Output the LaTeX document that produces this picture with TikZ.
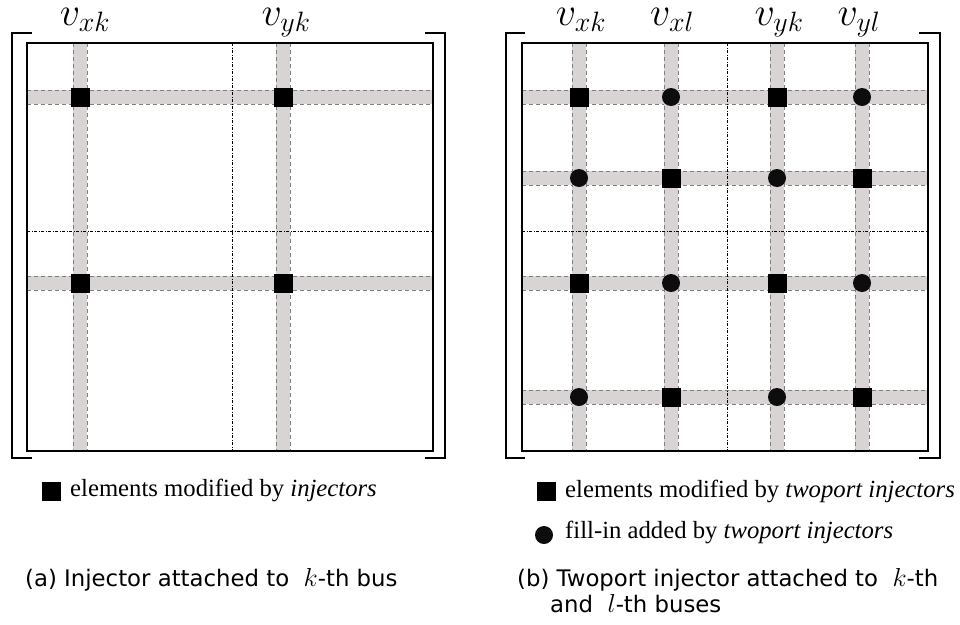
\RequirePackage{fix-cm}
\documentclass[tikz,border=0pt]{standalone}
\usepackage{fontspec}
\setmainfont{Liberation Serif}
\newfontfamily\capfont{DejaVu Sans}
\usetikzlibrary{calc}
\definecolor{bandgray}{RGB}{216,212,212}
\definecolor{banddash}{RGB}{128,128,128}
\tikzset{
  bandfill/.style={fill=bandgray, draw=none},
  bandedge/.style={draw=banddash, line width=0.9pt, dash pattern=on 4pt off 3pt},
  divider/.style={draw=black, line width=0.9pt, dash pattern=on 3pt off 1.5pt on 1pt off 1.5pt},
  matbox/.style={draw=black, line width=2pt},
  brack/.style={draw=black, line width=2.6pt},
  sqmark/.style={fill=black, draw=none, minimum size=19pt, inner sep=0pt, shape=rectangle},
  cmark/.style={fill=black!95, draw=none, minimum size=18pt, inner sep=0pt, shape=circle},
  collabel/.style={anchor=base, inner sep=0pt, text height=17pt, text depth=5pt,
    font=\fontsize{40}{48}\selectfont},
  legtext/.style={anchor=base west, inner sep=0pt, font=\fontsize{24.7}{29}\selectfont},
  captext/.style={anchor=base west, inner sep=0pt, font=\capfont\fontsize{22.8}{27}\selectfont},
}
% slightly enlarged math symbol inside a caption
\newcommand{\capmath}[1]{{\fontsize{26}{27}\selectfont$#1$}}
% vertical band at x from y1 to y2
\newcommand{\vband}[3]{%
  \fill[bandfill] (#1-7,#2) rectangle (#1+7,#3);
  \draw[bandedge] (#1-7,#2) -- (#1-7,#3);
  \draw[bandedge] (#1+7,#2) -- (#1+7,#3);}
% horizontal band at y from x1 to x2
\newcommand{\hband}[3]{%
  \fill[bandfill] (#2,#1-7) rectangle (#3,#1+7);
  \draw[bandedge] (#2,#1-7) -- (#3,#1-7);
  \draw[bandedge] (#2,#1+7) -- (#3,#1+7);}
\begin{document}
\begin{tikzpicture}[x=1pt,y=-1pt]
\useasboundingbox (0,0) rectangle (960,624);

% ---------- (a) single injector ----------
\hband{97}{27}{433}
\hband{283}{27}{433}
\vband{80}{43}{451}
\vband{283}{43}{451}
\draw[divider] (232,43) -- (232,451);
\draw[divider] (27,231) -- (433,231);
\node[sqmark] (a11) at (80,97) {};
\node[sqmark] (a12) at (283,97) {};
\node[sqmark] (a21) at (80,283) {};
\node[sqmark] (a22) at (283,283) {};
\draw[matbox] (27,43) rectangle (433,451);
\draw[brack] (32,33) -- (12,33) -- (12,458) -- (32,458);
\draw[brack] (425,33) -- (445,33) -- (445,458) -- (425,458);
\node[collabel] (axk) at (85,25) {$v_{xk}$};
\node[collabel] (ayk) at (286,25) {$v_{yk}$};

% legend (a)
\node[sqmark] (alegsq) at (51.5,491) {};
\node[legtext] (alegtx) at (70,496) {elements modified by \textit{injectors}};
% caption (a)
\node[captext] (acap) at (25,586) {(a) Injector attached to \ \capmath{k}-th bus};

% ---------- (b) twoport injector ----------
\foreach \yy in {97,178,283,397} { \hband{\yy}{522}{928} }
\foreach \xx in {579,671,777,862} { \vband{\xx}{43}{451} }
\draw[divider] (727,43) -- (727,451);
\draw[divider] (522,231) -- (928,231);
% markers: squares on modified entries, circles on fill-in
\node[sqmark] (b11) at (579,97) {};
\node[cmark]  (b12) at (671,97) {};
\node[sqmark] (b13) at (777,97) {};
\node[cmark]  (b14) at (862,97) {};
\node[cmark]  (b21) at (579,178) {};
\node[sqmark] (b22) at (671,178) {};
\node[cmark]  (b23) at (777,178) {};
\node[sqmark] (b24) at (862,178) {};
\node[sqmark] (b31) at (579,283) {};
\node[cmark]  (b32) at (671,283) {};
\node[sqmark] (b33) at (777,283) {};
\node[cmark]  (b34) at (862,283) {};
\node[cmark]  (b41) at (579,397) {};
\node[sqmark] (b42) at (671,397) {};
\node[cmark]  (b43) at (777,397) {};
\node[sqmark] (b44) at (862,397) {};
\draw[matbox] (522,43) rectangle (928,451);
\draw[brack] (525,33) -- (506,33) -- (506,458) -- (525,458);
\draw[brack] (919,33) -- (940,33) -- (940,458) -- (919,458);
\node[collabel] (bxk) at (581,25) {$v_{xk}$};
\node[collabel] (bxl) at (672,25) {$v_{xl}$};
\node[collabel] (byk) at (779,25) {$v_{yk}$};
\node[collabel] (byl) at (859,25) {$v_{yl}$};

% legend (b)
\node[sqmark] (blegsq) at (546.5,491.5) {};
\node[legtext] (blegtx) at (565,497) {elements modified by \textit{twoport injectors}};
\node[cmark] (blegc) at (544,535) {};
\node[legtext] (blegtx2) at (565,538) {fill-in added by \textit{twoport injectors}};
% caption (b)
\node[captext] (bcap1) at (517,586) {(b) Twoport injector attached to \ \capmath{k}-th};
\node[captext] (bcap2) at (550,612) {and \ \capmath{l}-th buses};
\end{tikzpicture}
\end{document}
